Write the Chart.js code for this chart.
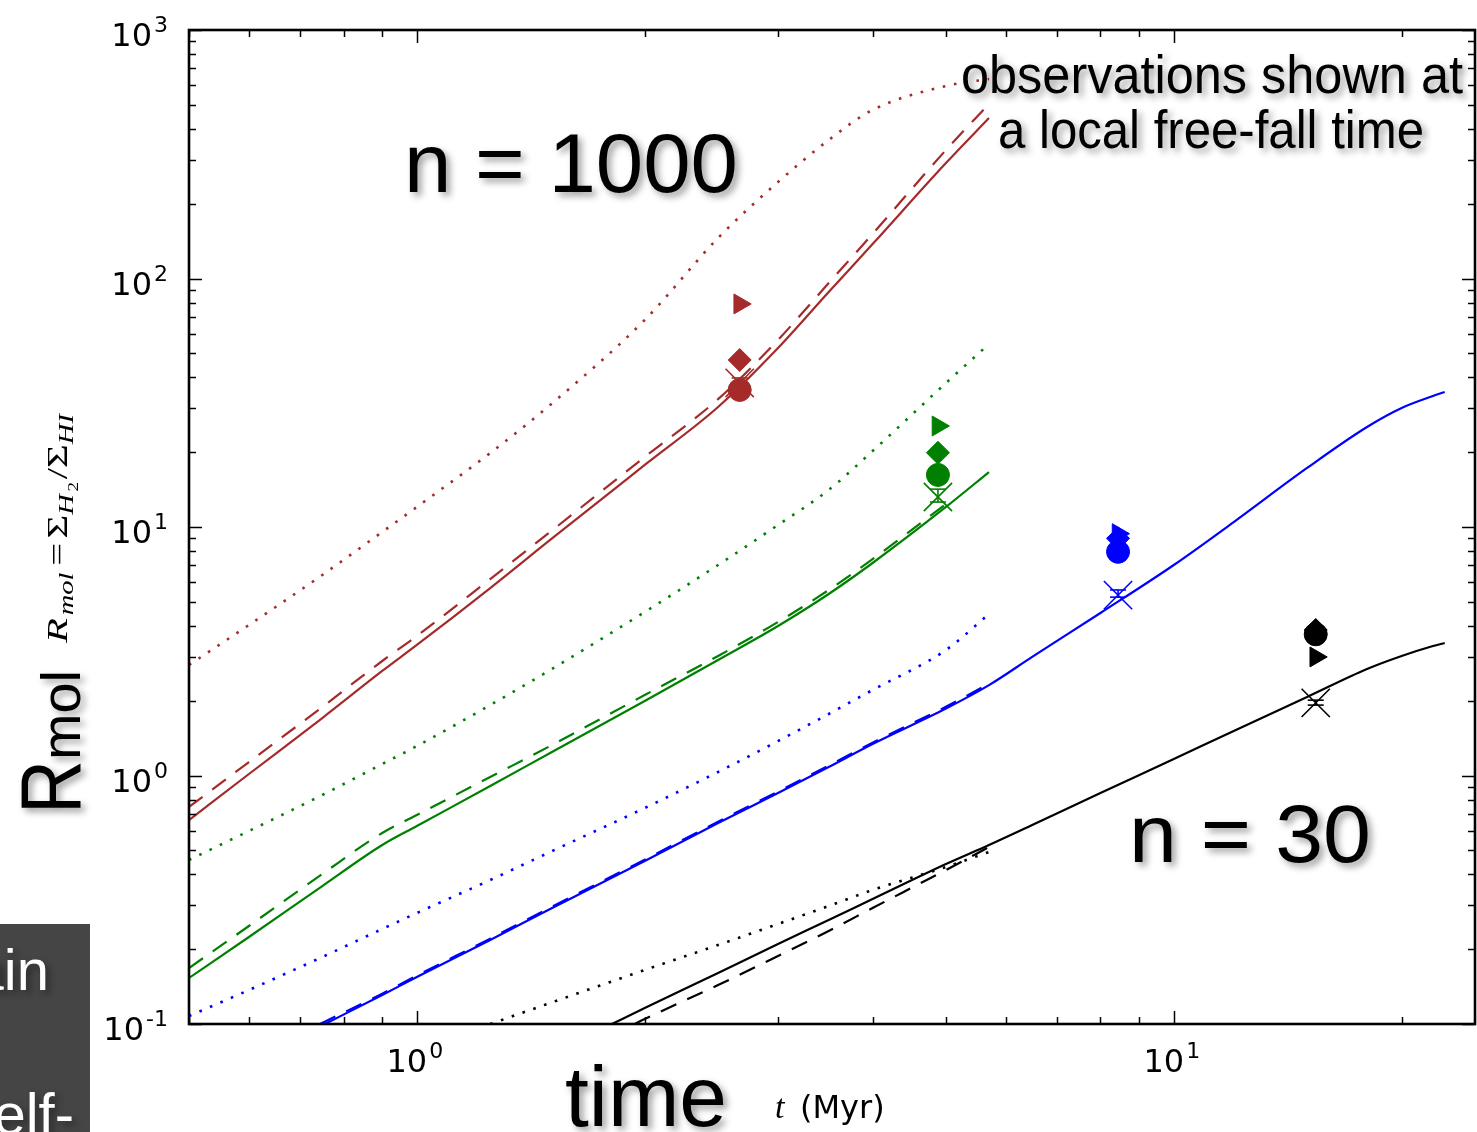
<!DOCTYPE html>
<html>
<head>
<meta charset="utf-8">
<script src="https://cdn.jsdelivr.net/npm/chart.js@4.4.1/dist/chart.umd.min.js"></script>
<style>
body{margin:0;background:#fff;}
#wrap{position:relative;width:1477px;height:1132px;overflow:hidden;background:#fff;}
</style>
</head>
<body>
<div id="wrap"><canvas id="grafico" width="1477" height="1132"></canvas></div>
<script>
// tiempo en Myr, Rmol = Sigma_H2 / Sigma_HI
var tFull = [0.5,0.6,0.75,0.9,1.0,1.25,1.5,2,2.5,3,3.5,4,5,5.7];
var brownSolid  = [0.662,1.014,1.703,2.634,3.351,5.68,8.87,17.77,30.4,52.5,88.2,137.6,291.5,442.5];
var brownDashed = [0.747,1.133,1.887,2.889,3.642,6.175,9.55,19.13,32.7,56.6,95.9,151.1,328.9,503.8];
var brownDotted = [2.785,4.033,6.41,9.55,12.04,19.85,30.97,68.1,145.6,244.5,360.8,476.6,595.3,635];
var greenSolid  = [0.1532,0.2239,0.3591,0.5253,0.6262,0.9072,1.232,1.994,2.916,3.996,5.375,7.164,12.04,16.64];
var tGreenDashed = [0.5,0.6,0.75,0.9,1.0,1.25,1.5,2,2.5,3,3.5,4,5];
var greenDashed = [0.168,0.248,0.4014,0.587,0.6934,0.9863,1.314,2.108,3.027,4.146,5.58,7.43,12.38];
var greenDotted = [0.4571,0.598,0.8347,1.112,1.314,1.921,2.658,4.549,7.033,10.19,14.09,20.22,37.97,54.5];
var blueDotted  = [0.1077,0.137,0.1861,0.2412,0.2797,0.3797,0.4923,0.7401,1.033,1.376,1.768,2.208,3.199,4.466];
var tBlue = [0.756,0.9,1.0,1.25,1.5,2,2.5,3,3.5,4,5,5.7,6.5,8,10,12,15,18,20,22,22.8];
var blueSolid = [0.1,0.1308,0.1546,0.2178,0.2903,0.4528,0.6439,0.8503,1.082,1.339,1.86,2.31,3.0,4.507,7.033,10.47,17.28,25.26,30.12,33.66,34.94];
var tBlueDashed = [0.745,0.9,1.0,1.25,1.5,2,2.5,3,3.5,4,5,5.7];
var blueDashed = [0.1,0.1325,0.1566,0.2206,0.294,0.4586,0.6521,0.8612,1.096,1.356,1.89,2.34];
var tBlack = [1.81,2,2.5,3,3.5,4,5,5.7,6.5,8,10,12,15,18,20,22,22.8];
var blackSolid = [0.1,0.116,0.1604,0.2099,0.2621,0.3184,0.4405,0.5253,0.6321,0.8503,1.165,1.511,2.07,2.683,3.027,3.32,3.414];
var tBlackDashed = [1.94,2,2.5,3,3.5,4,5,5.7];
var blackDashed = [0.1,0.1047,0.1435,0.1878,0.2367,0.2929,0.4166,0.5157];
var tBlackDotted = [1.25,1.5,2,2.5,3,3.5,4,5,5.7];
var blackDotted = [0.1,0.1215,0.1649,0.2079,0.2526,0.2984,0.3462,0.4284,0.4923];

// observaciones a un tiempo de caida libre local
var tObs = [2.67,4.88,8.44,15.4];
var obsColor = ['#a52a2a','#008000','#0000ff','#000000'];
var obsTriangle = [79,25.5,9.4,3.0];
var obsDiamond = [47,19.9,9.0,3.85];
var obsCircle = [35.6,16.2,7.95,3.7];
var obsCross = [38,13.2,5.32,1.96];
var errLow = [34.6,12.6,5.22,1.92];
var errHigh = [39.8,14.2,5.58,2.01];

// etiquetas de los ejes (exponentes)
var xTickExp = [0,1];
var yTickExp = [-1,0,1,2,3];

var BROWN = '#a52a2a', GREEN = '#008000', BLUE = '#0000ff', BLACK = '#000000';

function pts(ts, rs){
	return ts.map(function(t, i){ return {x: t, y: rs[i]}; });
}

function curva(ts, rs, color, estilo){
	var d = {
		data: pts(ts, rs),
		showLine: true,
		borderColor: color,
		borderWidth: estilo === 'dotted' ? 2.6 : 2.2,
		pointRadius: 0,
		cubicInterpolationMode: 'monotone',
		order: 10
	};
	if (estilo === 'dashed') d.borderDash = [17, 12];
	if (estilo === 'dotted') d.borderDash = [2.6, 8.8];
	return d;
}

function marcas(rs, estilo, radio, extra){
	var d = {
		data: pts(tObs, rs),
		showLine: false,
		pointStyle: estilo,
		pointRadius: radio,
		pointBackgroundColor: obsColor,
		pointBorderColor: obsColor,
		pointBorderWidth: 1
	};
	for (var k in extra) d[k] = extra[k];
	return d;
}

var datasets = [
	curva(tFull, brownDotted, BROWN, 'dotted'),
	curva(tFull, brownDashed, BROWN, 'dashed'),
	curva(tFull, brownSolid, BROWN, 'solid'),
	curva(tFull, greenDotted, GREEN, 'dotted'),
	curva(tGreenDashed, greenDashed, GREEN, 'dashed'),
	curva(tFull, greenSolid, GREEN, 'solid'),
	curva(tFull, blueDotted, BLUE, 'dotted'),
	curva(tBlueDashed, blueDashed, BLUE, 'dashed'),
	curva(tBlue, blueSolid, BLUE, 'solid'),
	curva(tBlackDotted, blackDotted, BLACK, 'dotted'),
	curva(tBlackDashed, blackDashed, BLACK, 'dashed'),
	curva(tBlack, blackSolid, BLACK, 'solid'),
	marcas(obsCross, 'crossRot', 20, {pointBorderWidth: 1.6, order: 6}),
	marcas(obsTriangle, 'triangle', 11.5, {pointRotation: 90, order: 5}),
	marcas(obsDiamond, 'rectRot', 11.5, {order: 4}),
	marcas(obsCircle, 'circle', 11.5, {order: 3})
];

// barras de error (linea vertical con topes)
tObs.forEach(function(t, i){
	datasets.push({
		data: [{x: t, y: errLow[i]}, {x: t, y: errHigh[i]}],
		showLine: true,
		borderColor: obsColor[i],
		borderWidth: 1.6,
		pointStyle: 'line',
		pointRadius: 8,
		pointBorderColor: obsColor[i],
		pointBorderWidth: 1.6,
		order: 1
	});
});

function logTicks(lo, hi){
	var out = [];
	for (var e = Math.floor(Math.log10(lo)); e <= Math.ceil(Math.log10(hi)); e++){
		for (var k = 1; k < 10; k++){
			var v = k * Math.pow(10, e);
			if (v >= lo * 0.999 && v <= hi * 1.001) out.push({v: v, major: k === 1});
		}
	}
	return out;
}

var marco = {
	id: 'marco',
	afterDatasetsDraw: function(chart){
		var ctx = chart.ctx, a = chart.chartArea, xs = chart.scales.x, ys = chart.scales.y;
		ctx.save();
		ctx.strokeStyle = '#000';
		ctx.lineWidth = 1.5;
		ctx.beginPath();
		logTicks(xs.min, xs.max).forEach(function(t){
			var px = Math.round(xs.getPixelForValue(t.v)) + 0.5, L = t.major ? 13 : 7;
			ctx.moveTo(px, a.bottom); ctx.lineTo(px, a.bottom - L);
			ctx.moveTo(px, a.top); ctx.lineTo(px, a.top + L);
		});
		logTicks(ys.min, ys.max).forEach(function(t){
			var py = Math.round(ys.getPixelForValue(t.v)) + 0.5, L = t.major ? 13 : 7;
			ctx.moveTo(a.left, py); ctx.lineTo(a.left + L, py);
			ctx.moveTo(a.right, py); ctx.lineTo(a.right - L, py);
		});
		ctx.stroke();
		ctx.lineWidth = 2.6;
		ctx.strokeRect(a.left, a.top, a.right - a.left, a.bottom - a.top);
		ctx.restore();
	}
};

var SANS = '"Liberation Sans", Arial, Helvetica, sans-serif';
var SERIF = '"Liberation Serif", "DejaVu Serif", serif';

function sombra(ctx){
	ctx.shadowColor = 'rgba(0,0,0,0.38)';
	ctx.shadowBlur = 7;
	ctx.shadowOffsetX = 4;
	ctx.shadowOffsetY = 4;
}

// texto con ancho ajustado
function texto(ctx, str, x, y, size, ancho, color, alinear){
	ctx.save();
	ctx.font = size + 'px ' + SANS;
	var w = ctx.measureText(str).width;
	var sx = ancho ? ancho / w : 1;
	var x0 = alinear === 'right' ? x - w * sx : x;
	sombra(ctx);
	ctx.fillStyle = color || '#000';
	ctx.translate(x0, y);
	ctx.scale(sx, 1);
	ctx.textBaseline = 'alphabetic';
	ctx.fillText(str, 0, 0);
	ctx.restore();
}

function potencia(ctx, exp, x, y, modo){
	ctx.save();
	ctx.fillStyle = '#000';
	ctx.textBaseline = 'alphabetic';
	ctx.font = '32px "DejaVu Sans", sans-serif';
	var w10 = ctx.measureText('10').width;
	ctx.font = '22px "DejaVu Sans", sans-serif';
	var sup = String(exp);
	var ws = ctx.measureText(sup).width;
	var total = w10 + 2 + ws, x0, base;
	if (modo === 'y'){ x0 = x - total; base = y + 16; }
	else { x0 = x - total / 2 - 2; base = y; }
	ctx.font = '32px "DejaVu Sans", sans-serif';
	ctx.fillText('10', x0, base);
	ctx.font = '22px "DejaVu Sans", sans-serif';
	ctx.fillText(sup, x0 + w10 + 2, base - 14);
	ctx.restore();
}

function etiquetaMat(ctx, x, y, largo){
	var partes = [
		{s: 'R', z: 30, it: true, dy: 0},
		{s: 'mol', z: 21, it: true, dy: 6, pad: 2},
		{s: '=', z: 30, it: false, dy: 0, pad: 3},
		{s: 'Σ', z: 30, it: false, dy: 0},
		{s: 'H', z: 21, it: true, dy: 6},
		{s: '2', z: 14, it: false, dy: 11, pad: 2},
		{s: '/', z: 30, it: false, dy: 0},
		{s: 'Σ', z: 30, it: false, dy: 0},
		{s: 'HI', z: 21, it: true, dy: 6}
	];
	ctx.save();
	var total = 0;
	partes.forEach(function(p){
		ctx.font = (p.it ? 'italic ' : '') + p.z + 'px ' + SERIF;
		p.w = ctx.measureText(p.s).width + (p.pad || 0) * 2;
		total += p.w;
	});
	ctx.translate(x, y);
	ctx.rotate(-Math.PI / 2);
	ctx.scale(largo / total, 1);
	ctx.fillStyle = '#000';
	var u = 0;
	partes.forEach(function(p){
		ctx.font = (p.it ? 'italic ' : '') + p.z + 'px ' + SERIF;
		ctx.fillText(p.s, u + (p.pad || 0), p.dy);
		u += p.w;
	});
	ctx.restore();
}

var textos = {
	id: 'textos',
	afterDraw: function(chart){
		var ctx = chart.ctx, xs = chart.scales.x, ys = chart.scales.y;

		// etiquetas de los ticks
		yTickExp.forEach(function(e){
			potencia(ctx, e, 168, ys.getPixelForValue(Math.pow(10, e)), 'y');
		});
		xTickExp.forEach(function(e){
			potencia(ctx, e, xs.getPixelForValue(Math.pow(10, e)), 1072, 'x');
		});

		// recuadro gris de la diapositiva
		ctx.save();
		ctx.fillStyle = '#454545';
		ctx.fillRect(0, 924, 90, 208);
		ctx.restore();
		texto(ctx, 'ain', 49, 990, 58, 0, '#fff', 'right');
		texto(ctx, 'elf-', 74, 1134, 58, 0, '#fff', 'right');

		// anotaciones
		texto(ctx, 'n = 1000', 404, 192, 84, 334);
		texto(ctx, 'n = 30', 1129, 862, 81, 242);
		texto(ctx, 'observations shown at', 961, 93, 54, 502);
		texto(ctx, 'a local free-fall time', 998, 148, 54, 426);
		texto(ctx, 'time', 565, 1126, 86, 162);

		// eje y: Rmol
		ctx.save();
		ctx.translate(80, 814);
		ctx.rotate(-Math.PI / 2);
		sombra(ctx);
		ctx.fillStyle = '#000';
		ctx.font = '86px ' + SANS;
		var wR = ctx.measureText('R').width;
		ctx.save();
		ctx.scale(54 / wR, 1);
		ctx.fillText('R', 0, 0);
		ctx.restore();
		ctx.font = '56px ' + SANS;
		var wm = ctx.measureText('mol').width;
		ctx.save();
		ctx.translate(54, 0);
		ctx.scale(90 / wm, 1);
		ctx.fillText('mol', 0, 0);
		ctx.restore();
		ctx.restore();

		etiquetaMat(ctx, 67, 643, 229);

		// eje x: t (Myr)
		ctx.save();
		ctx.fillStyle = '#000';
		ctx.font = 'italic 34px ' + SERIF;
		ctx.fillText('t', 775, 1118);
		ctx.font = '32px "DejaVu Sans", sans-serif';
		ctx.fillText('(Myr)', 800, 1118);
		ctx.restore();
	}
};

var grafico = new Chart(document.getElementById('grafico'), {
	type: 'scatter',
	data: {datasets: datasets},
	options: {
		responsive: false,
		animation: false,
		events: [],
		layout: {autoPadding: false, padding: {left: 189, top: 30, right: 2, bottom: 108}},
		plugins: {legend: {display: false}, tooltip: {enabled: false}},
		scales: {
			x: {type: 'logarithmic', min: 0.5, max: 25, display: false, bounds: 'data'},
			y: {type: 'logarithmic', min: 0.1, max: 1000, display: false, bounds: 'data'}
		}
	},
	plugins: [marco, textos]
});
</script>
</body>
</html>
